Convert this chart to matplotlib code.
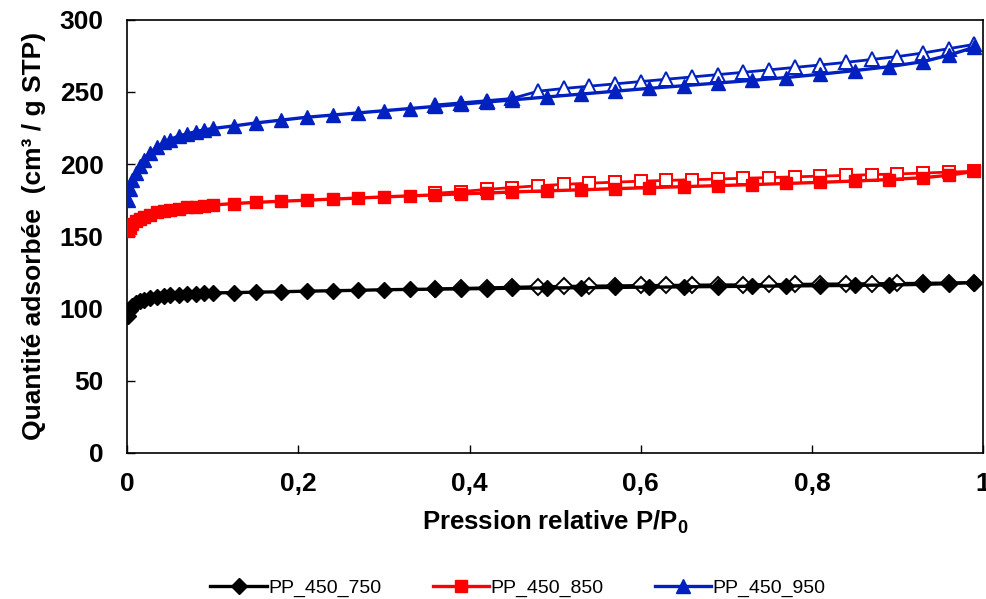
import matplotlib
matplotlib.use("Agg")
import matplotlib.pyplot as plt

plt.rcParams['font.family'] = ['Liberation Sans', 'DejaVu Sans']
plt.rcParams['mathtext.fontset'] = 'custom'
plt.rcParams['mathtext.rm'] = 'Liberation Sans'
plt.rcParams['mathtext.bf'] = 'Liberation Sans:bold'

# adsorption branch (filled markers)
x_ads = [0.001, 0.003, 0.006, 0.01, 0.015, 0.02, 0.027, 0.035, 0.043, 0.05,
         0.06, 0.07, 0.08, 0.09, 0.1, 0.125, 0.15, 0.18, 0.21, 0.24,
         0.27, 0.30, 0.33, 0.36, 0.39, 0.42, 0.45, 0.49, 0.53, 0.57,
         0.61, 0.65, 0.69, 0.73, 0.77, 0.81, 0.85, 0.89, 0.93, 0.96, 0.99]
ads_750 = [95, 99, 102, 104, 105, 106, 107, 108, 108.5, 109,
           109.5, 110, 110.3, 110.6, 110.8, 111, 111.3, 111.6, 112, 112.3,
           112.6, 113, 113.2, 113.4, 113.6, 113.8, 114, 114.2, 114.4, 114.6,
           114.8, 115, 115.2, 115.4, 115.6, 115.8, 116, 116.3, 116.7, 117.2, 118]
ads_850 = [154, 156, 158.5, 160.5, 162, 163.5, 165, 166.5, 167.5, 168.3,
           169.2, 170, 170.6, 171.2, 171.7, 172.7, 173.5, 174.3, 175, 175.8,
           176.5, 177.3, 178, 178.7, 179.4, 180, 180.7, 181.5, 182.2, 183,
           183.7, 184.4, 185.1, 185.8, 186.6, 187.4, 188.3, 189.3, 190.6, 192.3, 195]
ads_950 = [175, 183, 189, 194, 199, 203, 208, 212, 215, 217,
           219.5, 221, 222.5, 223.7, 224.7, 226.5, 228.5, 230.5, 232.5, 234,
           235.5, 237, 238.5, 240, 241.5, 243, 244.5, 246.5, 248.5, 250.5,
           252.5, 254.3, 256.2, 258, 260, 262.3, 264.8, 267.5, 271, 275.5, 281]

# desorption branch (open markers)
x_des = [0.99, 0.96, 0.93, 0.9, 0.87, 0.84, 0.81, 0.78, 0.75, 0.72, 0.69,
         0.66, 0.63, 0.6, 0.57, 0.54, 0.51, 0.48, 0.45, 0.42, 0.39, 0.36]
des_750 = [118, 117.8, 117.6, 117.4, 117.3, 117.1, 117, 116.8, 116.7, 116.5, 116.4,
           116.3, 116.1, 116, 115.8, 115.6, 115.4, 115.2, 114.8, 114.4, 114, 113.6]
des_850 = [195, 194.5, 193.8, 193.2, 192.7, 192.2, 191.7, 191.2, 190.7, 190.2, 189.7,
           189.2, 188.7, 188.2, 187.5, 186.8, 186, 185, 183.8, 182.5, 181, 179.8]
des_950 = [283, 280, 277, 274.5, 272.5, 270.5, 268.7, 267, 265.3, 263.6, 262,
           260.4, 258.8, 257.2, 255.6, 254, 252.4, 250.5, 245.5, 244, 242.5, 241]

labels = ['PP_450_750', 'PP_450_850', 'PP_450_950']
colors = ['#000000', '#ff0000', '#0020c0']
markers = ['D', 's', '^']
sizes = [8, 9, 10]

fig = plt.figure(figsize=(9.87, 5.99), dpi=100)
ax = fig.add_axes([0.129, 0.244, 0.867, 0.723])

handles = []
for ya, yd, lab, c, m, ms in zip([ads_750, ads_850, ads_950], [des_750, des_850, des_950],
                                 labels, colors, markers, sizes):
    h, = ax.plot(x_ads, ya, color=c, marker=m, ms=ms, lw=2.4, mec=c, mfc=c, label=lab, zorder=3)
    ax.plot(x_des, yd, color=c, marker=m, ms=ms, lw=2, mec=c, mfc='white', mew=1.4, zorder=2)
    handles.append(h)

ax.set_xlim(0, 1)
ax.set_ylim(0, 300)
ax.set_xticks([0, 0.2, 0.4, 0.6, 0.8, 1])
ax.set_xticklabels(['0', '0,2', '0,4', '0,6', '0,8', '1'])
ax.set_yticks(range(0, 301, 50))
ax.tick_params(direction='in', length=6, width=1, labelsize=19)
ax.tick_params(axis='x', pad=14)
ax.tick_params(axis='y', pad=17)
for t in ax.get_xticklabels() + ax.get_yticklabels():
    t.set_fontweight('bold')
for s in ax.spines.values():
    s.set_linewidth(1.2)

ax.set_xlabel(r'Pression relative P/P$_\mathbf{0}$', fontsize=18.5, fontweight='bold', labelpad=9)
ax.set_ylabel('Quantité adsorbée  (cm³ / g STP)', fontsize=19, fontweight='bold', labelpad=10)

fig.legend(handles=handles, labels=labels, loc='center', bbox_to_anchor=(0.525, 0.018),
           ncol=3, frameon=False, fontsize=14, handlelength=2.9, handletextpad=0.1,
           columnspacing=2.6)

fig.savefig('out.png', dpi=100)
